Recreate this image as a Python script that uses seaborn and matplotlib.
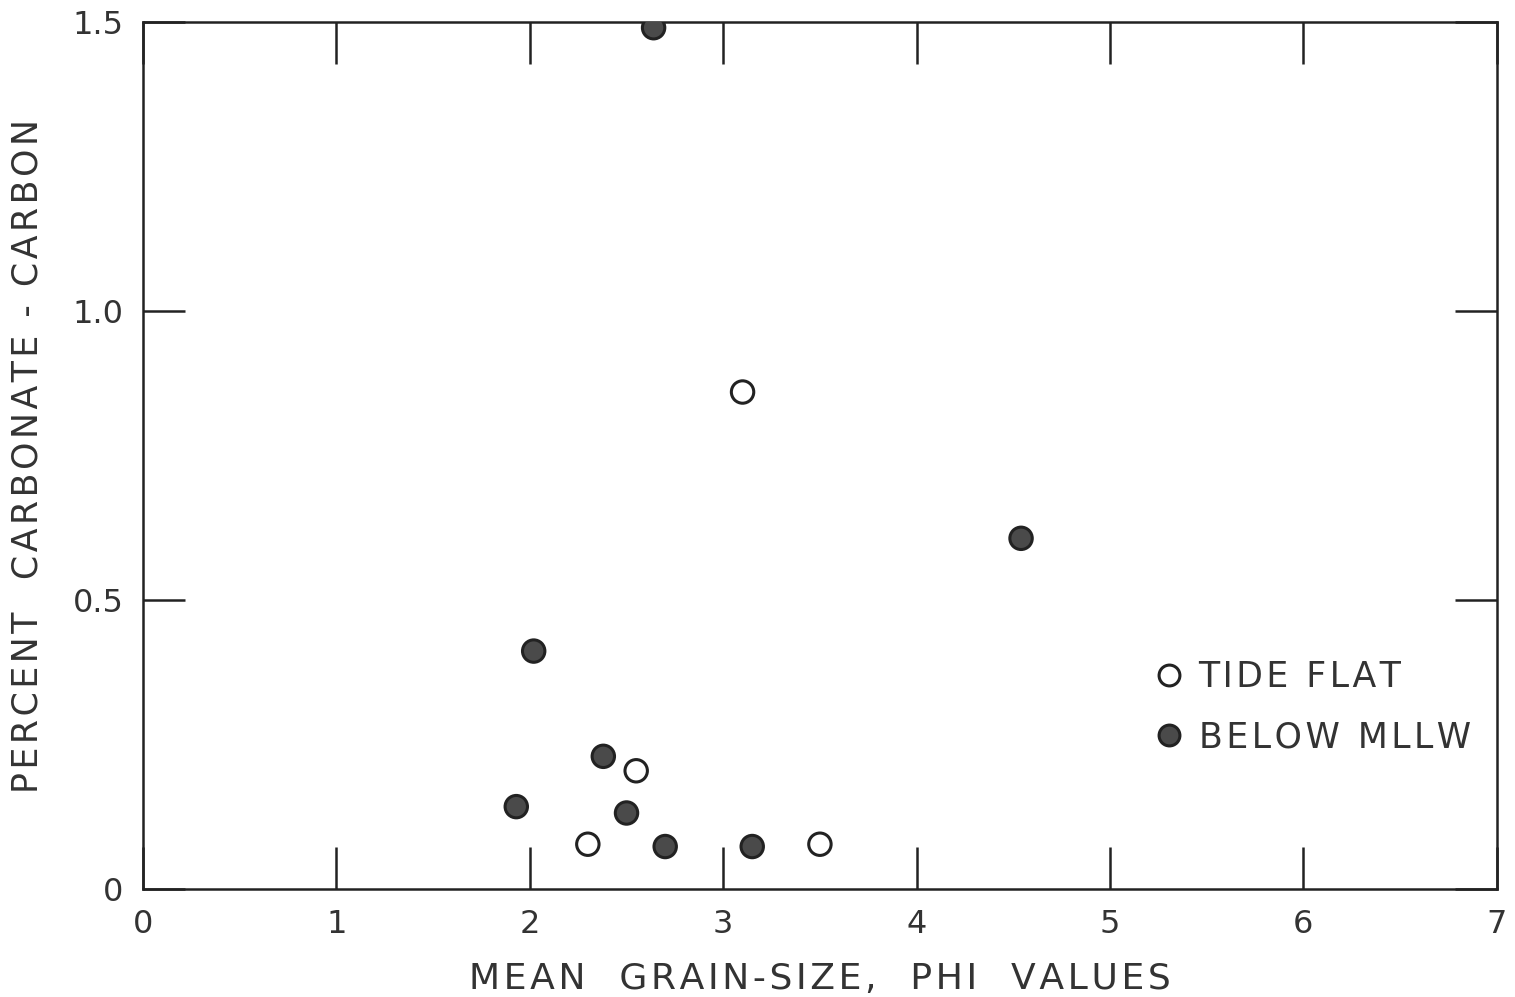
import pandas as pd
import seaborn as sns
import matplotlib.pyplot as plt
from matplotlib.lines import Line2D

# grain size (phi) and carbonate carbon (%)
tide_x = [3.10, 2.55, 2.30, 3.50]
tide_y = [0.860, 0.205, 0.078, 0.078]
below_x = [2.64, 4.54, 2.02, 2.38, 1.93, 2.50, 2.70, 3.15]
below_y = [1.490, 0.607, 0.412, 0.230, 0.143, 0.132, 0.074, 0.074]
groups = ['TIDE FLAT', 'BELOW MLLW']
x_label = 'MEAN  GRAIN-SIZE,  PHI  VALUES'
y_label = 'PERCENT  CARBONATE - CARBON'


def spaced(s):
    # old lettering guide look: a hair space between every letter
    return '\u200a'.join(s)


df = pd.DataFrame({
    'phi': tide_x + below_x,
    'carbon': tide_y + below_y,
    'group': [groups[0]] * len(tide_x) + [groups[1]] * len(below_x),
})

sns.set_style('ticks')
plt.rcParams['font.family'] = ['DejaVu Sans']

fig = plt.figure(figsize=(15.15, 9.97), dpi=100)
ax = fig.add_axes([0.0944, 0.108, 0.8936, 0.870])

sns.scatterplot(data=df, x='phi', y='carbon', hue='group', style='group',
                palette={groups[0]: 'white', groups[1]: '#4a4a4a'},
                markers={groups[0]: 'o', groups[1]: 'o'},
                s=260, edgecolor='#222222', linewidth=2.2, legend=False,
                ax=ax, zorder=3)

ax.set_xlim(0, 7)
ax.set_ylim(0, 1.5)
ax.set_xticks(range(0, 8))
ax.set_yticks([0, 0.5, 1.0, 1.5])
ax.set_yticklabels(['0', '0.5', '1.0', '1.5'])
ax.tick_params(direction='in', length=30, width=1.8, color='#222222',
               labelsize=23, labelcolor='#333333', pad=14,
               top=True, right=True)
for sp in ax.spines.values():
    sp.set_linewidth(1.8)
    sp.set_color('#222222')

ax.set_xlabel(spaced(x_label), fontsize=26, color='#333333', labelpad=16)
ax.set_ylabel(spaced(y_label), fontsize=25, color='#333333', labelpad=20)

handles = [
    Line2D([], [], marker='o', ls='', ms=15, mfc='white', mec='#222222', mew=2.2),
    Line2D([], [], marker='o', ls='', ms=15, mfc='#4a4a4a', mec='#222222', mew=2.2),
]
leg = ax.legend(handles, [spaced(g) for g in groups], loc='upper left',
                bbox_to_anchor=(0.722, 0.30), frameon=False, fontsize=25,
                handletextpad=0.35, labelspacing=0.75, handlelength=1.0)
for t in leg.get_texts():
    t.set_color('#333333')

fig.savefig('out.png', dpi=100)
